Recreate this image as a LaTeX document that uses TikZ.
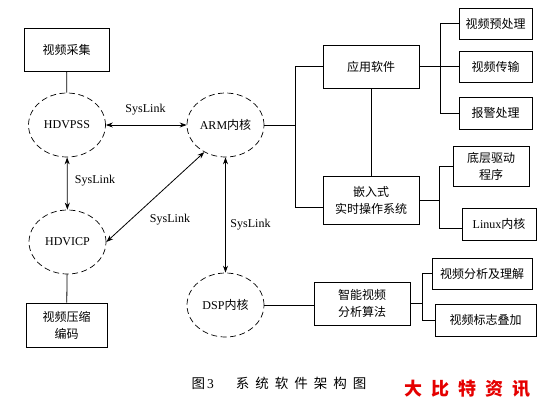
\documentclass[tikz,border=0pt]{standalone}
\usepackage{fontspec}
\setmainfont{Liberation Serif}
\newfontfamily\cjk{Noto Sans CJK SC}
\usetikzlibrary{shapes.geometric,arrows.meta}

\begin{document}
\begin{tikzpicture}[x=1pt,y=-1pt,
		box/.style={draw, line width=0.7pt, font=\cjk\fontsize{12}{17}\selectfont, align=center, inner sep=0pt},
		core/.style={draw, ellipse, dash pattern=on 6pt off 3.5pt, line width=0.7pt, minimum width=77pt, minimum height=64pt, inner sep=0pt, font=\fontsize{12}{15}\selectfont},
		link/.style={line width=0.8pt, {Stealth[length=7pt,width=5pt]}-{Stealth[length=7pt,width=5pt]}},
		wire/.style={line width=0.8pt},
		tag/.style={inner sep=0pt, font=\fontsize{12}{15}\selectfont}]
	\useasboundingbox (0,0) rectangle (549,402);
	
	\node[box, minimum width=85pt, minimum height=43pt] (capture) at (66.5,49.5) {视频采集};
	\node[core] (hdvpss) at (67,125) {HDVPSS};
	\node[core] (arm) at (225.5,125) {ARM{\cjk 内核}};
	\node[core] (hdvicp) at (67.5,242) {HDVICP};
	\node[core] (dsp) at (225.5,305) {DSP{\cjk 内核}};
	\node[box, minimum width=81pt, minimum height=44pt] (encode) at (66.5,325) {视频压缩\\编码};
	
	\node[box, minimum width=96pt, minimum height=43pt] (app) at (371,66.5) {应用软件};
	\node[box, minimum width=96pt, minimum height=48pt] (rtos) at (371,200) {嵌入式\\实时操作系统};
	\node[box, minimum width=96pt, minimum height=43pt] (algo) at (362,303.5) {智能视频\\分析算法};
	
	\node[box, minimum width=73pt, minimum height=31pt] (pre) at (495.5,23.5) {视频预处理};
	\node[box, minimum width=73pt, minimum height=31pt] (trans) at (495.5,66.5) {视频传输};
	\node[box, minimum width=73pt, minimum height=32pt] (alarm) at (495.5,113) {报警处理};
	\node[box, minimum width=76pt, minimum height=40pt] (drv) at (491,166) {底层驱动\\程序};
	\node[box, minimum width=74pt, minimum height=32pt] (linux) at (499,224) {{\rmfamily Linux}内核};
	\node[box, minimum width=100pt, minimum height=31pt] (ana) at (482,273.5) {视频分析及理解};
	\node[box, minimum width=101pt, minimum height=32pt] (mark) at (485.5,320) {视频标志叠加};
	
	\node[tag] (l1) at (145.5,110) {SysLink};
	\node[tag] (l2) at (95,181) {SysLink};
	\node[tag] (l3) at (170,220) {SysLink};
	\node[tag] (l4) at (250.5,225) {SysLink};
	
	\draw[wire] (capture) -- (hdvpss);
	\draw[wire] (hdvicp) -- (encode);
	\draw[link] (hdvpss) -- (arm);
	\draw[link] (hdvpss) -- (hdvicp);
	\draw[link] (arm.232) -- (hdvicp.east);
	\draw[link] (arm) -- (dsp);
	
	\coordinate (hub) at (295,125);
	\draw[wire] (arm) -- (hub);
	\draw[wire] (hub) |- (app.west);
	\draw[wire] (hub) |- ([yshift=-7pt]rtos.west);
	\draw[wire] (app) -- (rtos);
	
	\coordinate (appfork) at (440,66.5);
	\draw[wire] (app) -- (appfork);
	\draw[wire] (appfork) |- (pre.west);
	\draw[wire] (appfork) -- (trans.west);
	\draw[wire] (appfork) |- (alarm.west);
	
	\coordinate (osfork) at (439,200);
	\draw[wire] (rtos) -- (osfork);
	\draw[wire] (osfork) |- (drv.west);
	\draw[wire] (osfork) |- ([yshift=-4pt]linux.west);
	
	\draw[wire] (dsp.east) -- (dsp.east -| algo.west);
	\coordinate (algfork) at (422,303.5);
	\draw[wire] (algo) -- (algfork);
	\draw[wire] (algfork) |- (ana.west);
	\draw[wire] (algfork) |- (mark.west);
	
	\node[font=\fontsize{13.5}{16}\selectfont] (cap) at (279,383) {{\cjk 图}\hspace{2pt}3\hspace{22pt}{\cjk 系\hspace{6pt}统\hspace{6pt}软\hspace{6pt}件\hspace{6pt}架\hspace{6pt}构\hspace{6pt}图}};
	\node[text=red!90!black, font=\cjk\bfseries\fontsize{18}{20}\selectfont] (brand) at (467,389) {大\hspace{9pt}比\hspace{9pt}特\hspace{9pt}资\hspace{9pt}讯};
\end{tikzpicture}
\end{document}
